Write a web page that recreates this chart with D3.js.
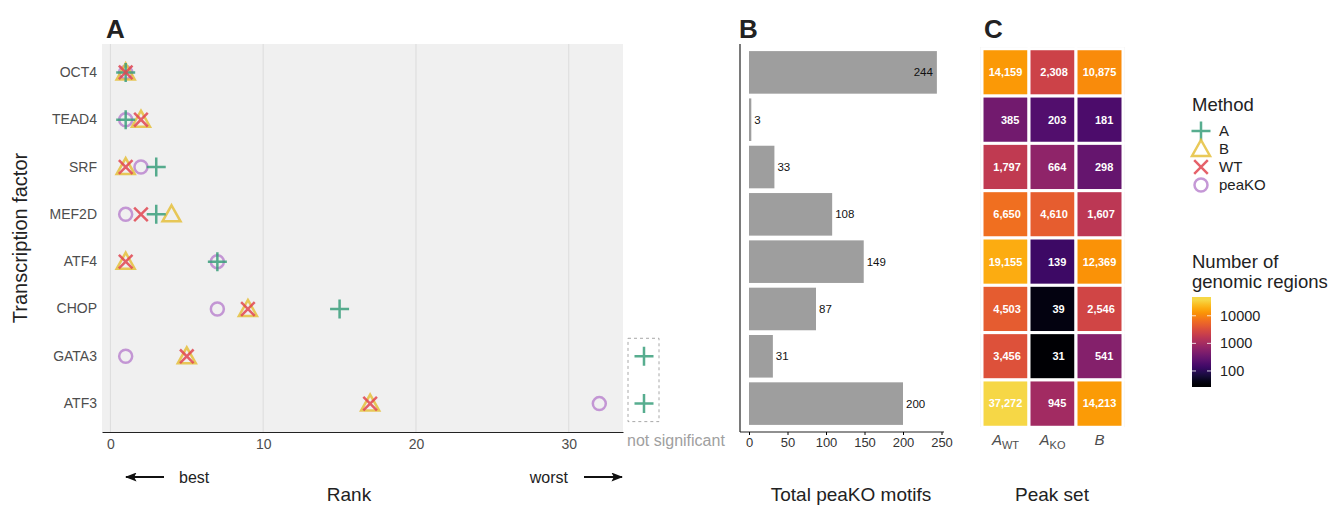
<!DOCTYPE html>
<html>
<head>
<meta charset="utf-8">
<script src="https://cdn.jsdelivr.net/npm/d3@7"></script>
<style>
  body { margin: 0; background: #fff; }
  svg { font-family: "Liberation Sans", Arial, sans-serif; }
</style>
</head>
<body>
<div id="chart"></div>
<script>
const factors = ["OCT4", "TEAD4", "SRF", "MEF2D", "ATF4", "CHOP", "GATA3", "ATF3"];
const methods = ["A", "B", "WT", "peaKO"];
// null = not significant
const rankA = [1, 1, 3, 3, 7, 15, null, null];
const rankB = [1, 2, 1, 4, 1, 9, 5, 17];
const rankWT = [1, 2, 1, 2, 1, 9, 5, 17];
const rankPeaKO = [1, 1, 2, 1, 7, 7, 1, 32];
const peakoMotifs = [244, 3, 33, 108, 149, 87, 31, 200];
const peakSets = ["AWT", "AKO", "B"];
const regionsAWT = [14159, 385, 1797, 6650, 19155, 4503, 3456, 37272];
const regionsAKO = [2308, 203, 664, 4610, 139, 39, 31, 945];
const regionsB = [10875, 181, 298, 1607, 12369, 2546, 541, 14213];
const rankTicks = [0, 10, 20, 30];
const motifTicks = [0, 50, 100, 150, 200, 250];
const regionTicks = [100, 1000, 10000];

const methodColor = { A: "#3a9f7b", B: "#e5bf3c", WT: "#e04550", peaKO: "#bb86cf" };
const drawOrder = ["peaKO", "B", "A", "WT"];

const svg = d3.select("#chart").append("svg")
  .attr("width", 1330).attr("height", 505);

const plotTop = 44, plotBottom = 432;
const y = d3.scaleBand().domain(factors)
  .range([plotTop + 0.6 * 47.3 - 47.3 / 2, plotBottom - 0.6 * 47.3 + 47.3 / 2]);
const yc = (f) => y(f) + y.bandwidth() / 2;

// symbol outlines
function shape(method) {
  if (method === "A") return "M-9.5,0H9.5M0,-9.5V9.5";
  if (method === "WT") return "M-6.8,-6.8L6.8,6.8M-6.8,6.8L6.8,-6.8";
  if (method === "B") return "M0,-9L9,7H-9Z";
  const p = d3.path(); p.arc(0, 0, 6.5, 0, 2 * Math.PI); return p.toString();
}

// ---------- Panel A ----------
const xA = d3.scaleLinear().domain([-0.55, 33.55]).range([102, 623]);
const gA = svg.append("g");
gA.append("rect").attr("x", 102).attr("y", plotTop).attr("width", 521).attr("height", plotBottom - plotTop).attr("fill", "#f0f0f0");
gA.selectAll(".grid").data(rankTicks).join("line")
  .attr("x1", (d) => xA(d)).attr("x2", (d) => xA(d))
  .attr("y1", plotTop).attr("y2", plotBottom)
  .attr("stroke", "#dcdcdc").attr("stroke-width", 1);

const points = [];
const ranks = { A: rankA, B: rankB, WT: rankWT, peaKO: rankPeaKO };
drawOrder.forEach((m) => factors.forEach((f, i) => {
  if (ranks[m][i] != null) points.push({ m, f, r: ranks[m][i] });
}));
gA.selectAll(".pt").data(points).join("path")
  .attr("transform", (d) => `translate(${xA(d.r)},${yc(d.f)})`)
  .attr("d", (d) => shape(d.m))
  .attr("fill", "none")
  .attr("stroke", (d) => methodColor[d.m])
  .attr("stroke-width", 2.5)
  .attr("stroke-opacity", 0.85);

// not significant column
const nsFactors = factors.filter((f, i) => rankA[i] == null);
const nsX = 644;
gA.append("rect")
  .attr("x", 628).attr("y", yc(nsFactors[0]) - 18)
  .attr("width", 31).attr("height", yc(nsFactors[nsFactors.length - 1]) - yc(nsFactors[0]) + 36)
  .attr("fill", "none").attr("stroke", "#a8a8a8").attr("stroke-width", 1).attr("stroke-dasharray", "3,3");
gA.selectAll(".ns").data(nsFactors).join("path")
  .attr("transform", (f) => `translate(${nsX},${yc(f)})`)
  .attr("d", shape("A")).attr("fill", "none")
  .attr("stroke", methodColor.A).attr("stroke-width", 2.5).attr("stroke-opacity", 0.85);
gA.append("text").attr("x", 627).attr("y", 446).attr("font-size", 16).attr("fill", "#a0a0a0")
  .text("not significant");

gA.append("g").attr("transform", `translate(0,${plotBottom})`)
  .call(d3.axisBottom(xA).tickValues(rankTicks).tickSize(0).tickPadding(7))
  .call((g) => g.select(".domain").attr("stroke", "#222").attr("stroke-width", 1.2))
  .selectAll("text").attr("font-size", 14).attr("fill", "#4d4d4d").attr("font-family", "Liberation Sans, Arial");

gA.append("g").attr("transform", `translate(102,0)`)
  .call(d3.axisLeft(y).tickSize(0).tickPadding(5))
  .call((g) => g.select(".domain").remove())
  .selectAll("text").attr("font-size", 14).attr("fill", "#4d4d4d").attr("font-family", "Liberation Sans, Arial");

gA.append("text").attr("x", 106).attr("y", 38).attr("font-size", 26).attr("font-weight", "bold").attr("fill", "#222").text("A");
gA.append("text").attr("transform", "translate(27,238) rotate(-90)").attr("text-anchor", "middle")
  .attr("font-size", 20).attr("fill", "#222").text("Transcription factor");
gA.append("text").attr("x", 349).attr("y", 501).attr("text-anchor", "middle").attr("font-size", 19).attr("fill", "#222").text("Rank");

const defs = svg.append("defs");
defs.append("marker").attr("id", "arrow").attr("viewBox", "0 0 10 10").attr("refX", 9).attr("refY", 5)
  .attr("markerWidth", 6.5).attr("markerHeight", 5).attr("orient", "auto-start-reverse")
  .attr("preserveAspectRatio", "none")
  .append("path").attr("d", "M0,0L10,5L0,10L2,5Z").attr("fill", "#111");
gA.append("line").attr("x1", 164).attr("x2", 126).attr("y1", 477).attr("y2", 477)
  .attr("stroke", "#111").attr("stroke-width", 1.8).attr("marker-end", "url(#arrow)");
gA.append("text").attr("x", 179).attr("y", 483).attr("font-size", 16).attr("fill", "#222").text("best");
gA.append("text").attr("x", 568).attr("y", 483).attr("text-anchor", "end").attr("font-size", 16).attr("fill", "#222").text("worst");
gA.append("line").attr("x1", 584).attr("x2", 622).attr("y1", 477).attr("y2", 477)
  .attr("stroke", "#111").attr("stroke-width", 1.8).attr("marker-end", "url(#arrow)");

// ---------- Panel B ----------
const xB = d3.scaleLinear().domain([0, 250]).range([749, 941.5]);
const gB = svg.append("g");
const barH = y.bandwidth() * 0.9;
gB.selectAll(".bar").data(factors).join("rect")
  .attr("x", xB(0)).attr("y", (f) => yc(f) - barH / 2)
  .attr("width", (f, i) => xB(peakoMotifs[i]) - xB(0)).attr("height", barH)
  .attr("fill", "#9e9e9e");
gB.selectAll(".blab").data(factors).join("text")
  .attr("x", (f, i) => peakoMotifs[i] > 230 ? xB(peakoMotifs[i]) - 4 : xB(peakoMotifs[i]) + 3)
  .attr("y", (f) => yc(f)).attr("dy", "0.35em")
  .attr("text-anchor", (f, i) => peakoMotifs[i] > 230 ? "end" : "start")
  .attr("font-size", 11.5).attr("fill", "#111")
  .text((f, i) => peakoMotifs[i]);
gB.append("line").attr("x1", 740).attr("x2", 740).attr("y1", plotTop).attr("y2", plotBottom).attr("stroke", "#222").attr("stroke-width", 1.2);
gB.append("g").attr("transform", `translate(0,${plotBottom})`)
  .call(d3.axisBottom(xB).tickValues(motifTicks).tickSize(3).tickPadding(3))
  .call((g) => g.select(".domain").attr("d", `M740,0H944`).attr("stroke", "#222").attr("stroke-width", 1.2))
  .selectAll("text").attr("font-size", 13).attr("fill", "#333").attr("font-family", "Liberation Sans, Arial");
gB.append("text").attr("x", 739).attr("y", 38).attr("font-size", 26).attr("font-weight", "bold").attr("fill", "#222").text("B");
gB.append("text").attr("x", 851).attr("y", 501).attr("text-anchor", "middle").attr("font-size", 19).attr("fill", "#222").text("Total peaKO motifs");

// ---------- Panel C ----------
const regions = { AWT: regionsAWT, AKO: regionsAKO, B: regionsB };
const xC = d3.scaleBand().domain(peakSets).range([982, 1123]);
const logC = d3.scaleLog().domain([31, 37272]);
const fillC = (v) => d3.interpolateInferno(0.9 * logC(v));
const gC = svg.append("g");
gC.append("rect").attr("x", 980).attr("y", plotTop + 3).attr("width", 145).attr("height", 380).attr("fill", "#f0f0f0");
const cells = [];
peakSets.forEach((s) => factors.forEach((f, i) => cells.push({ s, f, v: regions[s][i] })));
gC.selectAll(".cell").data(cells).join("rect")
  .attr("x", (d) => xC(d.s)).attr("y", (d) => y(d.f))
  .attr("width", xC.bandwidth()).attr("height", y.bandwidth())
  .attr("fill", (d) => fillC(d.v)).attr("stroke", "#fff").attr("stroke-width", 3);
const fmt = d3.format(",");
gC.selectAll(".clab").data(cells).join("text")
  .attr("x", (d) => xC(d.s) + xC.bandwidth() / 2).attr("y", (d) => yc(d.f)).attr("dy", "0.35em")
  .attr("text-anchor", "middle").attr("font-size", 11).attr("font-weight", "bold").attr("fill", "#fff")
  .style("white-space", "pre")
  .text((d) => fmt(d.v).padStart(6, " "));
const colLabels = gC.selectAll(".colLab").data(peakSets).join("text")
  .attr("x", (s) => xC(s) + xC.bandwidth() / 2).attr("y", 445)
  .attr("text-anchor", "middle").attr("font-size", 15).attr("fill", "#4d4d4d");
colLabels.append("tspan").attr("font-style", "italic").text((s) => s[0]);
colLabels.filter((s) => s.length > 1).append("tspan").attr("font-size", 11).attr("dy", 4).text((s) => s.slice(1));
gC.append("text").attr("x", 984).attr("y", 38).attr("font-size", 26).attr("font-weight", "bold").attr("fill", "#222").text("C");
gC.append("text").attr("x", 1052).attr("y", 501).attr("text-anchor", "middle").attr("font-size", 19).attr("fill", "#222").text("Peak set");

// ---------- Legends ----------
const gL = svg.append("g");
gL.append("text").attr("x", 1192).attr("y", 111).attr("font-size", 18.5).attr("fill", "#222").text("Method");
const legY = d3.scalePoint().domain(methods).range([131, 185]);
methods.forEach((m) => {
  gL.append("path").attr("transform", `translate(1201,${legY(m)})`).attr("d", shape(m))
    .attr("fill", "none").attr("stroke", methodColor[m]).attr("stroke-width", 2.5).attr("stroke-opacity", 0.85);
  gL.append("text").attr("x", 1219).attr("y", legY(m)).attr("dy", "0.35em").attr("font-size", 15).attr("fill", "#222").text(m);
});

gL.append("text").attr("x", 1192).attr("y", 268).attr("font-size", 18.5).attr("fill", "#222").text("Number of");
gL.append("text").attr("x", 1192).attr("y", 288).attr("font-size", 18.5).attr("fill", "#222").text("genomic regions");
const legScale = d3.scaleLog().domain([31, 37272]).range([385, 300]);
const grad = defs.append("linearGradient").attr("id", "cgrad")
  .attr("gradientUnits", "userSpaceOnUse").attr("x1", 0).attr("x2", 0)
  .attr("y1", legScale(31)).attr("y2", legScale(37272));
grad.selectAll("stop").data(d3.range(0, 1.001, 0.05)).join("stop")
  .attr("offset", (d) => `${d * 100}%`)
  .attr("stop-color", (d) => d3.interpolateInferno(0.9 * d));
gL.append("rect").attr("x", 1192).attr("y", 297).attr("width", 19).attr("height", 90).attr("fill", "url(#cgrad)");
regionTicks.forEach((t) => {
  gL.append("line").attr("x1", 1192).attr("x2", 1196).attr("y1", legScale(t)).attr("y2", legScale(t)).attr("stroke", "#fff").attr("stroke-opacity", 0.8);
  gL.append("line").attr("x1", 1207).attr("x2", 1211).attr("y1", legScale(t)).attr("y2", legScale(t)).attr("stroke", "#fff").attr("stroke-opacity", 0.8);
  gL.append("text").attr("x", 1220).attr("y", legScale(t)).attr("dy", "0.35em").attr("font-size", 14.5).attr("fill", "#222").text(t);
});
</script>
</body>
</html>
